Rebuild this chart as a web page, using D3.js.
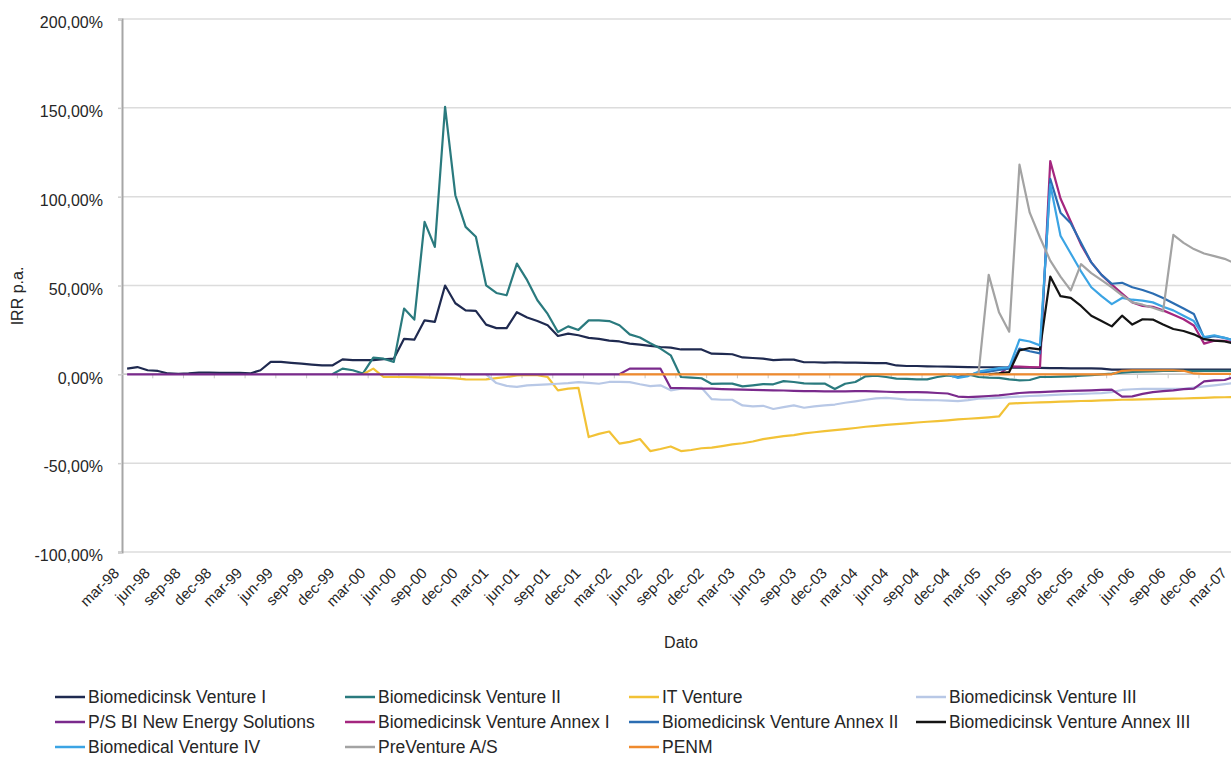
<!DOCTYPE html>
<html>
<head>
<meta charset="utf-8">
<script src="https://cdn.jsdelivr.net/npm/d3@7"></script>
<style>
  body { margin: 0; background: #ffffff; }
  svg { display: block; }
  text { font-family: "Liberation Sans", Arial, Helvetica, sans-serif; fill: #262626; }
</style>
</head>
<body>
<svg id="chart" width="1231" height="758"></svg>
<script>
// Monthly observation dates (Danish month abbreviations)
const months = [
  "mar-98","apr-98","maj-98","jun-98","jul-98","aug-98","sep-98","okt-98","nov-98","dec-98",
  "jan-99","feb-99","mar-99","apr-99","maj-99","jun-99","jul-99","aug-99","sep-99","okt-99","nov-99","dec-99",
  "jan-00","feb-00","mar-00","apr-00","maj-00","jun-00","jul-00","aug-00","sep-00","okt-00","nov-00","dec-00",
  "jan-01","feb-01","mar-01","apr-01","maj-01","jun-01","jul-01","aug-01","sep-01","okt-01","nov-01","dec-01",
  "jan-02","feb-02","mar-02","apr-02","maj-02","jun-02","jul-02","aug-02","sep-02","okt-02","nov-02","dec-02",
  "jan-03","feb-03","mar-03","apr-03","maj-03","jun-03","jul-03","aug-03","sep-03","okt-03","nov-03","dec-03",
  "jan-04","feb-04","mar-04","apr-04","maj-04","jun-04","jul-04","aug-04","sep-04","okt-04","nov-04","dec-04",
  "jan-05","feb-05","mar-05","apr-05","maj-05","jun-05","jul-05","aug-05","sep-05","okt-05","nov-05","dec-05",
  "jan-06","feb-06","mar-06","apr-06","maj-06","jun-06","jul-06","aug-06","sep-06","okt-06","nov-06","dec-06",
  "jan-07","feb-07","mar-07"
];

// Quarterly labels shown on the category axis
const tickLabels = [
  "mar-98","jun-98","sep-98","dec-98","mar-99","jun-99","sep-99","dec-99",
  "mar-00","jun-00","sep-00","dec-00","mar-01","jun-01","sep-01","dec-01",
  "mar-02","jun-02","sep-02","dec-02","mar-03","jun-03","sep-03","dec-03",
  "mar-04","jun-04","sep-04","dec-04","mar-05","jun-05","sep-05","dec-05",
  "mar-06","jun-06","sep-06","dec-06","mar-07"
];

const yTicks = [-100, -50, 0, 50, 100, 150, 200];

// IRR p.a. in percent, one value per month (null = fund not yet started)
const bv1 = [
  3.2,4.1,2.3,1.9,0.5,0.3,0.5,1.0,1.0,0.8,
  0.8,0.8,0.5,2.3,7.0,7.0,6.5,6.0,5.5,5.0,
  5.0,8.4,8.0,8.0,8.0,8.5,8.8,20.0,19.5,30.4,
  29.5,50.0,40.0,36.0,35.7,28.0,26.0,26.0,35.0,32.0,
  30.0,27.6,21.6,22.9,22.0,20.5,20.0,19.0,18.5,17.3,
  16.7,16.0,15.4,15.0,14.0,14.0,14.0,11.6,11.5,11.3,
  9.5,9.2,8.8,8.0,8.3,8.3,6.8,6.8,6.6,6.8,
  6.6,6.6,6.4,6.3,6.3,5.0,4.7,4.7,4.5,4.4,
  4.3,4.2,4.1,4.0,4.0,3.9,3.8,3.8,3.7,3.6,
  3.5,3.5,3.4,3.4,3.4,3.2,2.7,2.6,2.6,2.6,
  2.6,2.6,2.6,2.6,2.6,2.6,2.6,2.6,2.6
];

const bv2 = [
  null,null,null,null,null,null,null,null,null,null,
  null,null,null,null,null,null,null,null,null,null,
  0,3.2,2.3,0.5,9.4,8.8,7.0,37.0,30.8,85.8,
  71.7,150.6,100.8,83.0,77.4,50.1,45.8,44.5,62.3,53.0,
  41.7,34.0,23.8,27.0,25.0,30.4,30.4,30.0,27.6,22.5,
  20.7,17.5,14.5,10.7,-1.5,-1.8,-2.2,-5.4,-5.2,-5.2,
  -6.8,-6.2,-5.5,-5.6,-3.8,-4.3,-5.1,-5.2,-5.2,-8.3,
  -5.3,-4.3,-1.1,-0.8,-1.5,-2.4,-2.6,-2.8,-2.8,-1.5,
  -0.6,-1.5,0,-1.5,-1.9,-2.0,-2.8,-3.4,-3.2,-1.5,
  -1.5,-1.3,-1.1,-0.8,-0.5,0,0.4,1.0,1.3,1.5,
  1.7,1.9,1.9,1.9,1.9,1.9,1.9,1.9,1.9
];

const itVenture = [
  null,null,null,null,null,null,null,null,null,null,
  null,null,null,null,null,null,null,null,null,null,
  null,null,null,0,3.2,-1.5,-1.5,-1.5,-1.6,-1.7,
  -1.9,-2.0,-2.3,-2.8,-2.9,-2.8,-2.1,-1.5,-0.6,-0.3,
  -0.5,-1.5,-9.0,-8.0,-7.6,-35.3,-33.5,-32.2,-39.0,-38.0,
  -36.4,-43.2,-42.0,-40.6,-43.2,-42.6,-41.6,-41.3,-40.4,-39.4,
  -38.8,-37.8,-36.5,-35.6,-34.8,-34.2,-33.2,-32.6,-32.0,-31.4,
  -30.8,-30.2,-29.5,-29.0,-28.5,-28.0,-27.6,-27.1,-26.7,-26.3,
  -25.9,-25.4,-25.0,-24.6,-24.2,-23.7,-16.5,-16.2,-16.0,-15.8,
  -15.6,-15.4,-15.2,-15.0,-14.9,-14.7,-14.5,-14.3,-14.2,-14.1,
  -14.0,-13.8,-13.7,-13.6,-13.4,-13.2,-13.0,-12.9,-12.8
];

const bv3 = [
  null,null,null,null,null,null,null,null,null,null,
  null,null,null,null,null,null,null,null,null,null,
  null,null,null,null,null,null,null,null,null,null,
  null,null,null,null,null,0,-4.9,-6.5,-7.1,-6.2,
  -5.9,-5.6,-5.3,-5.0,-4.4,-4.8,-5.3,-4.3,-4.3,-4.4,
  -5.6,-6.6,-6.2,-9.0,-8.0,-7.8,-7.6,-14.0,-14.3,-14.3,
  -17.5,-18.0,-17.7,-19.5,-18.5,-17.5,-18.8,-18.0,-17.5,-17.0,
  -16.0,-15.2,-14.3,-13.5,-13.3,-13.7,-14.2,-14.4,-14.5,-14.6,
  -14.8,-15.1,-14.5,-13.7,-13.5,-13.2,-12.8,-12.5,-12.2,-12.0,
  -11.7,-11.4,-11.2,-11.0,-10.8,-10.6,-10.0,-8.8,-8.4,-8.2,
  -8.2,-8.2,-8.2,-8.2,-7.5,-6.8,-6.2,-5.5,-4.8
];

const newEnergy = [
  0,0,0,0,0,0,0,0,0,0,
  0,0,0,0,0,0,0,0,0,0,
  0,0,0,0,0,0,0,0,0,0,
  0,0,0,0,0,0,0,0,0,0,
  0,0,0,0,0,0,0,0,0,3.2,
  3.2,3.2,3.2,-7.7,-7.8,-7.9,-8.0,-8.1,-8.3,-8.5,
  -8.6,-8.7,-8.9,-9.0,-9.1,-9.3,-9.4,-9.5,-9.6,-9.6,
  -9.6,-9.5,-9.4,-9.6,-9.8,-10.0,-10.0,-10.0,-10.2,-10.5,
  -10.8,-12.5,-12.8,-12.5,-12.2,-11.8,-11.2,-10.5,-10.2,-10.0,
  -9.7,-9.5,-9.3,-9.2,-9.0,-8.8,-8.6,-12.5,-12.4,-11.0,
  -10.0,-9.5,-9.0,-8.3,-8.0,-4.0,-3.4,-3.2,-1.2
];

const annex1 = [
  null,null,null,null,null,null,null,null,null,null,
  null,null,null,null,null,null,null,null,null,null,
  null,null,null,null,null,null,null,null,null,null,
  null,null,null,null,null,null,null,null,null,null,
  null,null,null,null,null,null,null,null,null,null,
  null,null,null,null,null,null,null,null,null,null,
  null,null,null,null,null,null,null,null,null,null,
  null,null,null,null,null,null,null,null,null,null,
  null,null,null,null,null,0,4.5,4.3,4.1,4.0,
  120.0,99.0,86.0,73.0,63.0,56.0,50.5,45.5,40.5,38.5,
  38.0,36.0,33.5,31.0,27.5,17.3,19.0,18.8,18.0
];

const annex2 = [
  null,null,null,null,null,null,null,null,null,null,
  null,null,null,null,null,null,null,null,null,null,
  null,null,null,null,null,null,null,null,null,null,
  null,null,null,null,null,null,null,null,null,null,
  null,null,null,null,null,null,null,null,null,null,
  null,null,null,null,null,null,null,null,null,null,
  null,null,null,null,null,null,null,null,null,null,
  null,null,null,null,null,null,null,null,null,null,
  0,-1.5,-0.5,1.0,1.5,2.5,3.2,14.5,13.0,11.8,
  110.0,91.0,85.0,74.0,63.0,56.0,51.0,51.5,49.0,47.5,
  45.5,43.0,40.0,37.0,34.0,20.5,21.5,20.5,19.0
];

const annex3 = [
  null,null,null,null,null,null,null,null,null,null,
  null,null,null,null,null,null,null,null,null,null,
  null,null,null,null,null,null,null,null,null,null,
  null,null,null,null,null,null,null,null,null,null,
  null,null,null,null,null,null,null,null,null,null,
  null,null,null,null,null,null,null,null,null,null,
  null,null,null,null,null,null,null,null,null,null,
  null,null,null,null,null,null,null,null,null,null,
  null,null,null,null,0,0.5,1.3,13.5,14.8,14.0,
  55.0,44.0,43.0,38.5,33.0,30.0,27.0,33.0,28.0,31.0,
  30.8,28.0,25.5,24.4,22.5,19.8,19.0,18.5,17.3
];

const bv4 = [
  null,null,null,null,null,null,null,null,null,null,
  null,null,null,null,null,null,null,null,null,null,
  null,null,null,null,null,null,null,null,null,null,
  null,null,null,null,null,null,null,null,null,null,
  null,null,null,null,null,null,null,null,null,null,
  null,null,null,null,null,null,null,null,null,null,
  null,null,null,null,null,null,null,null,null,null,
  null,null,null,null,null,null,null,null,null,null,
  0,-2.0,-1.0,1.5,2.5,3.5,4.0,19.5,18.5,16.3,
  107.0,78.0,68.0,58.0,49.0,44.0,39.5,43.0,42.0,41.5,
  40.5,38.0,36.0,33.0,30.0,21.0,22.0,20.5,19.0
];

const preVenture = [
  null,null,null,null,null,null,null,null,null,null,
  null,null,null,null,null,null,null,null,null,null,
  null,null,null,null,null,null,null,null,null,null,
  null,null,null,null,null,null,null,null,null,null,
  null,null,null,null,null,null,null,null,null,null,
  null,null,null,null,null,null,null,null,null,null,
  null,null,null,null,null,null,null,null,null,null,
  null,null,null,null,null,null,null,null,null,null,
  null,null,null,0,56.0,35.0,24.0,118.0,91.0,77.0,
  64.0,55.0,47.3,62.0,57.0,53.0,49.0,44.5,40.5,39.2,
  37.5,35.5,78.5,74.0,70.5,68.0,66.5,65.0,62.5
];

const penm = [
  null,null,null,null,null,null,null,null,null,null,
  null,null,null,null,null,null,null,null,null,null,
  null,null,null,null,null,null,null,null,null,null,
  null,null,null,null,null,null,null,null,null,null,
  null,null,null,null,null,null,null,null,0,0,
  0,0,0,0,0,0,0,0,0,0,
  0,0,0,0,0,0,0,0,0,0,
  0,0,0,0,0,0,0,0,0,0,
  0,0,0,0,0,0,0,0,0,0,
  0,0,0,0,0,0,0,2.0,2.3,2.3,
  2.3,2.3,2.3,2.0,0.5,0.3,0.3,0.3,0.3
];

const seriesNames = [
  "Biomedicinsk Venture I", "Biomedicinsk Venture II", "IT Venture", "Biomedicinsk Venture III",
  "P/S BI New Energy Solutions", "Biomedicinsk Venture Annex I", "Biomedicinsk Venture Annex II", "Biomedicinsk Venture Annex III",
  "Biomedical Venture IV", "PreVenture A/S", "PENM"
];
const seriesValues = [bv1, bv2, itVenture, bv3, newEnergy, annex1, annex2, annex3, bv4, preVenture, penm];
const seriesColors = [
  "#1f2a50", "#2a7a7e", "#f2c236", "#b8c8e6",
  "#7a2a8c", "#a4267f", "#2b6db2", "#141414",
  "#3ba4e4", "#a3a3a3", "#ef8a2e"
];

// ---- layout ----
const svg = d3.select("#chart");
const plot = { left: 122, right: 1240, top: 19, bottom: 552 };

const x = d3.scalePoint().domain(months).range([plot.left, plot.right]).padding(0.5);
const y = d3.scaleLinear().domain([-100, 200]).range([plot.bottom, plot.top]);

// Danish number style: comma decimals, plain hyphen for negatives
const da = d3.formatLocale({ decimal: ",", thousands: ".", grouping: [3], currency: ["", " kr."], minus: "-" });
const pct = v => da.format(".2f")(v) + "%";

// horizontal gridlines
svg.append("g").selectAll("line").data(yTicks).join("line")
  .attr("x1", plot.left).attr("x2", plot.right)
  .attr("y1", d => y(d)).attr("y2", d => y(d))
  .attr("stroke", "#dcdcdc").attr("stroke-width", 1.5);

// value axis
const yAxis = svg.append("g").attr("transform", `translate(${plot.left},0)`)
  .call(d3.axisLeft(y).tickValues(yTicks).tickSize(4).tickPadding(15).tickFormat(pct));
yAxis.select(".domain").attr("stroke", "#a6a6a6").attr("stroke-width", 2);
yAxis.selectAll(".tick line").attr("stroke", "#cfcfcf").attr("stroke-width", 1.5);
yAxis.selectAll(".tick text")
  .style("font-size", "16px").attr("dy", "0.55em").style("fill", "#262626")
  .style("font-family", '"Liberation Sans", Arial, sans-serif');

// category axis line at zero with quarterly tick marks
const step = x.step();
svg.append("line")
  .attr("x1", plot.left).attr("x2", plot.right)
  .attr("y1", y(0)).attr("y2", y(0))
  .attr("stroke", "#c8c8c8").attr("stroke-width", 1.5);
const quarterBounds = tickLabels.map(m => x(m) - step / 2);
svg.append("g").selectAll("line").data(quarterBounds.slice(1)).join("line")
  .attr("x1", d => d).attr("x2", d => d)
  .attr("y1", y(0)).attr("y2", y(0) + 4)
  .attr("stroke", "#c8c8c8").attr("stroke-width", 1);

// rotated quarter labels below the plot
svg.append("g").selectAll("text").data(tickLabels).join("text")
  .attr("transform", d => `translate(${x(d) - 7},${plot.bottom + 22}) rotate(-45)`)
  .attr("text-anchor", "end")
  .style("font-size", "15px")
  .text(d => d);

// axis titles
svg.append("text")
  .attr("transform", "translate(23,296) rotate(-90)")
  .attr("text-anchor", "middle").style("font-size", "16px").text("IRR p.a.");
svg.append("text")
  .attr("x", 681).attr("y", 648)
  .attr("text-anchor", "middle").style("font-size", "16px").text("Dato");

// series lines
const line = d3.line()
  .defined(d => d.v !== null)
  .x(d => x(d.m))
  .y(d => y(d.v));

svg.append("g").selectAll("path")
  .data(seriesValues.map((vals, k) => ({ k, pts: vals.map((v, i) => ({ m: months[i], v })) })))
  .join("path")
  .attr("d", d => line(d.pts))
  .attr("fill", "none")
  .attr("stroke", d => seriesColors[d.k])
  .attr("stroke-width", 2.2)
  .attr("stroke-linejoin", "round");

// legend: 4 columns, 3 rows
const legCols = [55, 345, 629, 916];
const legRows = [697, 722, 747];
const leg = svg.append("g").selectAll("g").data(seriesNames).join("g")
  .attr("transform", (d, k) => `translate(${legCols[k % 4]},${legRows[Math.floor(k / 4)]})`);
leg.append("line")
  .attr("x1", 0).attr("x2", 30).attr("y1", 0).attr("y2", 0)
  .attr("stroke", (d, k) => seriesColors[k]).attr("stroke-width", 2.5);
leg.append("text")
  .attr("x", 33).attr("y", 6)
  .style("font-size", "17.5px")
  .text(d => d);
</script>
</body>
</html>
